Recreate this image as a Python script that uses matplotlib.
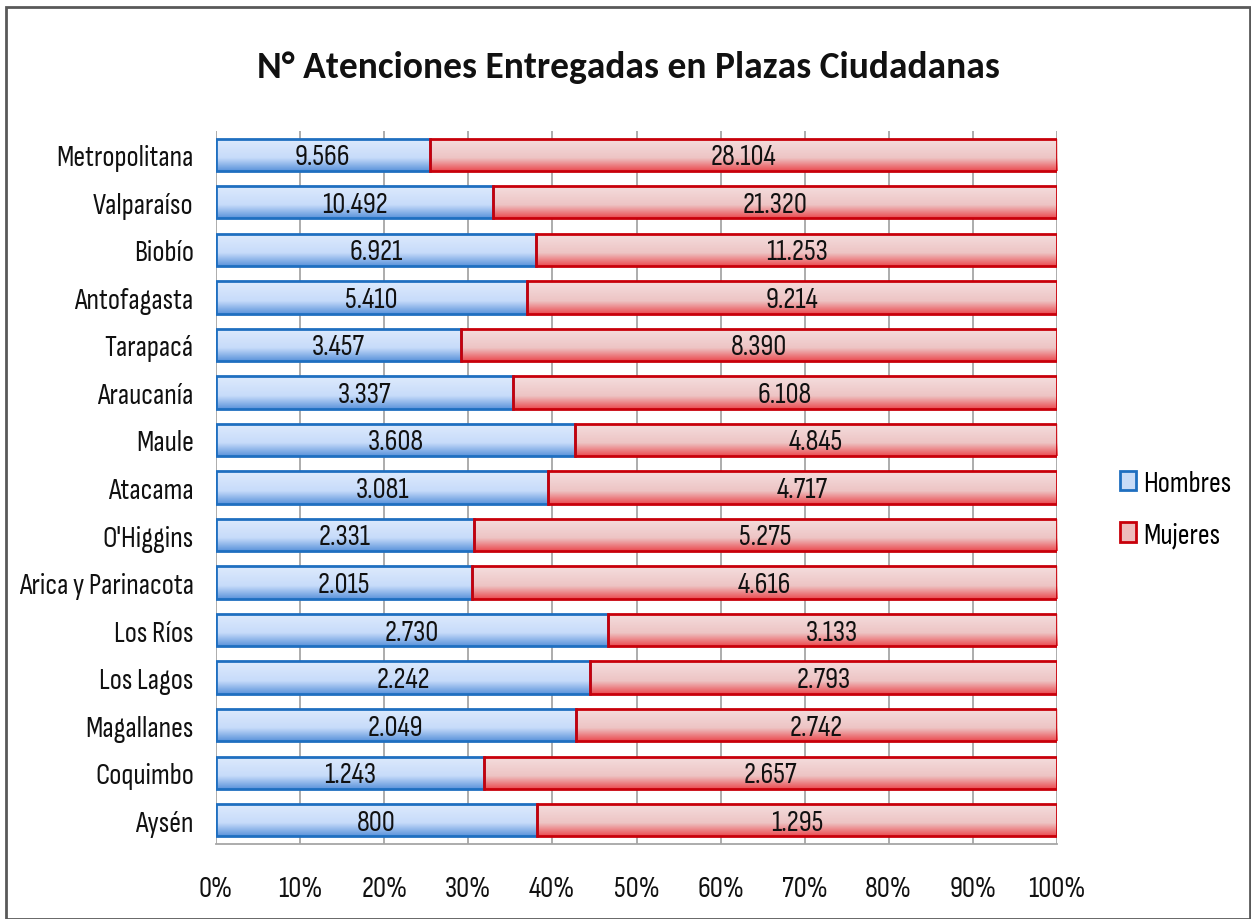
import matplotlib.pyplot as plt
import numpy as np
from matplotlib.patches import Rectangle

plt.rcParams['font.family'] = ['Sofia Sans Condensed', 'Carlito', 'DejaVu Sans']

regiones = ["Metropolitana", "Valparaíso", "Biobío", "Antofagasta", "Tarapacá",
            "Araucanía", "Maule", "Atacama", "O'Higgins", "Arica y Parinacota",
            "Los Ríos", "Los Lagos", "Magallanes", "Coquimbo", "Aysén"]
hombres = [9566, 10492, 6921, 5410, 3457, 3337, 3608, 3081, 2331, 2015,
           2730, 2242, 2049, 1243, 800]
mujeres = [28104, 21320, 11253, 9214, 8390, 6108, 4845, 4717, 5275, 4616,
           3133, 2793, 2742, 2657, 1295]


def fmt(v):
    return f"{v:,}".replace(",", ".")


def gradient_bars(ax, bars, top, mid, bottom):
    # light over most of the bar, darker band near the bottom edge
    t = np.linspace(0, 1, 64)[:, None]
    top, mid, bottom = np.array(top), np.array(mid), np.array(bottom)
    k = np.clip(t / 0.6, 0, 1)
    cols = top * (1 - k) + mid * k
    k2 = np.clip((t - 0.6) / 0.4, 0, 1)
    cols = cols * (1 - k2) + bottom * k2
    img = cols[:, None, :]
    for b in bars:
        x0, y0 = b.get_x(), b.get_y()
        w, h = b.get_width(), b.get_height()
        im = ax.imshow(img, extent=(x0, x0 + w, y0 + h, y0), aspect='auto',
                       zorder=2, origin='upper', interpolation='bilinear')
        im.set_clip_path(b)


h = np.array(hombres, dtype=float)
m = np.array(mujeres, dtype=float)
tot = h + m
ph = h / tot * 100
pm = m / tot * 100
y = np.arange(len(regiones))

fig = plt.figure(figsize=(12.51, 9.2), dpi=100)
ax = fig.add_axes([216 / 1251, (920 - 845) / 920, (1057 - 216) / 1251, (845 - 132) / 920])

bh = ax.barh(y, ph, height=0.68, color='none', edgecolor='#1f6fc0', linewidth=2, zorder=3)
bm = ax.barh(y, pm, left=ph, height=0.68, color='none', edgecolor='#c8000a', linewidth=2,
             zorder=3)

gradient_bars(ax, bh, [0.87, 0.92, 0.99], [0.78, 0.86, 0.98], [0.36, 0.58, 0.86])
gradient_bars(ax, bm, [0.96, 0.87, 0.87], [0.93, 0.77, 0.77], [0.92, 0.30, 0.32])

for i in range(len(regiones)):
    ax.text(ph[i] / 2, y[i] + 0.04, fmt(hombres[i]), ha='center', va='center',
            fontsize=21, color='#111111', zorder=4)
    ax.text(ph[i] + pm[i] / 2, y[i] + 0.04, fmt(mujeres[i]), ha='center', va='center',
            fontsize=21, color='#111111', zorder=4)

ax.set_xlim(0, 100)
ax.set_ylim(len(regiones) - 0.5, -0.5)
ax.set_xticks(np.arange(0, 101, 10))
ax.set_xticklabels([f"{v}%" for v in range(0, 101, 10)])
ax.set_yticks(y)
ax.set_yticklabels(regiones)
ax.tick_params(axis='both', labelsize=21, colors='#111111', length=0)
ax.tick_params(axis='x', pad=22)
ax.tick_params(axis='y', pad=16)
ax.grid(axis='x', color='#a6a6a6', linewidth=1.3, zorder=0)
ax.set_axisbelow(True)
for s in ['top', 'right', 'left']:
    ax.spines[s].set_visible(False)
ax.spines['bottom'].set_color('#a6a6a6')
ax.spines['bottom'].set_linewidth(1.3)

fig.text(628 / 1251, 1 - 68 / 920, "N° Atenciones Entregadas en Plazas Ciudadanas",
         ha='center', va='center', fontsize=27, fontweight='bold', color='#111111',
         family=['Carlito', 'DejaVu Sans'])

handles = [Rectangle((0, 0), 1, 1, facecolor='#c9dcf7', edgecolor='#1f6fc0', linewidth=2),
           Rectangle((0, 0), 1, 1, facecolor='#eebcbc', edgecolor='#c8000a', linewidth=2)]
fig.legend(handles, ['Hombres', 'Mujeres'], loc='center left',
           bbox_to_anchor=(1094 / 1251, 1 - 510 / 920), frameon=False, fontsize=21,
           handlelength=0.55, handleheight=0.65, handletextpad=0.25, labelspacing=0.85)

fig.patches.append(Rectangle((6 / 1251, 0), 1244 / 1251, 1 - 8 / 920, transform=fig.transFigure,
                             fill=False, edgecolor='#595959', linewidth=2))

fig.savefig('out.png', dpi=100)
